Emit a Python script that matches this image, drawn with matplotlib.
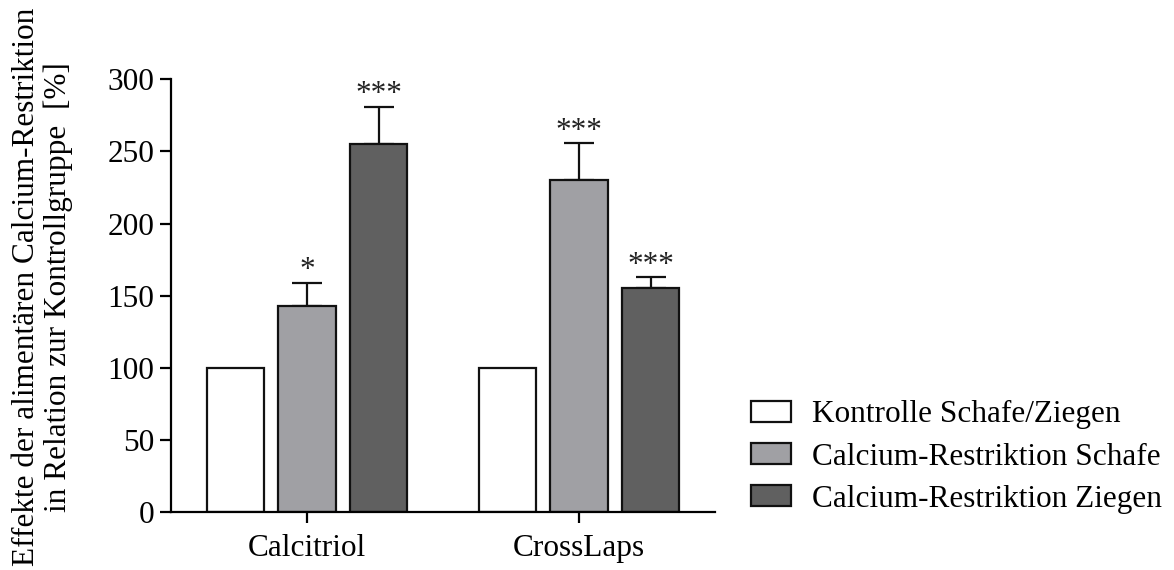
import numpy as np
import matplotlib.pyplot as plt

plt.rcParams['font.family'] = ['Liberation Serif', 'DejaVu Serif']

# data
categories = ['Calcitriol', 'CrossLaps']
groups = ['Kontrolle Schafe/Ziegen', 'Calcium-Restriktion Schafe', 'Calcium-Restriktion Ziegen']
values = [[100, 100], [143, 230], [255, 155]]
errors = [[0, 0], [16, 26], [26, 8]]
stars = [['', ''], ['*', '***'], ['***', '***']]
colors = ['#ffffff', '#a0a0a4', '#606060']

fs = 22.5
fig = plt.figure(figsize=(11.74, 5.70), dpi=100)
ax = fig.add_axes([171 / 1174, 1 - 512 / 570, (715 - 171) / 1174, (512 - 79.3) / 570])

x = np.arange(len(categories))
step = 0.2634
width = 0.2105
for i in range(len(groups)):
    xs = x + (i - 1) * step
    ax.bar(xs, values[i], width, color=colors[i], edgecolor='#111111', linewidth=1.6,
           label=groups[i], zorder=2)
    err = np.array(errors[i])
    mask = err > 0
    if mask.any():
        ax.errorbar(xs[mask], np.array(values[i])[mask],
                    yerr=[np.zeros(mask.sum()), err[mask]],
                    fmt='none', ecolor='#111111', elinewidth=1.6, capsize=10.5,
                    capthick=1.6, zorder=1)
    for xx, v, e, s in zip(xs, values[i], err, stars[i]):
        if s:
            ax.annotate(s, (xx, v + e), xytext=(0, -2), textcoords='offset points',
                        ha='center', va='bottom', fontsize=fs, color='#222222')

ax.set_xlim(-0.5, 1.5)
ax.set_ylim(0, 300)
ax.set_yticks(range(0, 301, 50))
ax.set_xticks(x)
ax.set_xticklabels(categories)
ax.spines['top'].set_visible(False)
ax.spines['right'].set_visible(False)
for s in ['left', 'bottom']:
    ax.spines[s].set_linewidth(1.6)
ax.tick_params(axis='both', labelsize=fs, length=8, width=1.6, direction='out')
ax.tick_params(axis='y', pad=4)
ax.tick_params(axis='x', pad=8)

fig.text(0.036, 0.497, 'Effekte der alimentären Calcium-Restriktion\nin Relation zur Kontrollgruppe  [%]',
         rotation=90, ha='center', va='center', fontsize=fs, linespacing=1.12)

fig.legend(loc='center left', bbox_to_anchor=(750.7 / 1174, 1 - 457 / 570), frameon=False,
           fontsize=fs, handlelength=1.3, handleheight=0.64, handletextpad=0.65,
           labelspacing=0.42, borderpad=0, borderaxespad=0)

fig.savefig('out.png', dpi=100)
